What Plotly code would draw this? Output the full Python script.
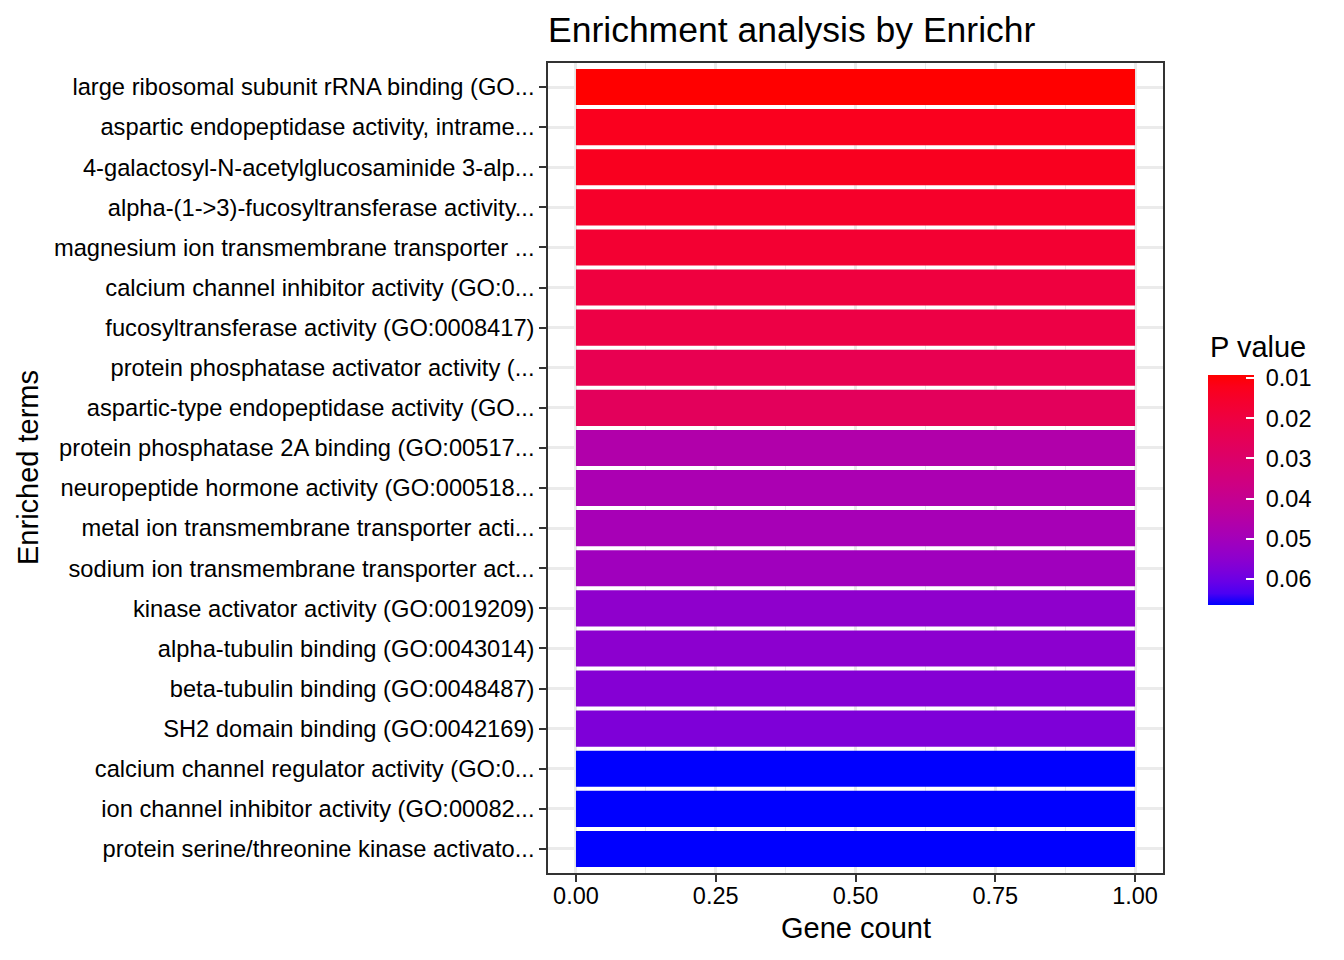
import plotly.graph_objects as go

# Enrichr results (one gene per term)
terms = [
    "large ribosomal subunit rRNA binding (GO...",
    "aspartic endopeptidase activity, intrame...",
    "4-galactosyl-N-acetylglucosaminide 3-alp...",
    "alpha-(1->3)-fucosyltransferase activity...",
    "magnesium ion transmembrane transporter ...",
    "calcium channel inhibitor activity (GO:0...",
    "fucosyltransferase activity (GO:0008417)",
    "protein phosphatase activator activity (...",
    "aspartic-type endopeptidase activity (GO...",
    "protein phosphatase 2A binding (GO:00517...",
    "neuropeptide hormone activity (GO:000518...",
    "metal ion transmembrane transporter acti...",
    "sodium ion transmembrane transporter act...",
    "kinase activator activity (GO:0019209)",
    "alpha-tubulin binding (GO:0043014)",
    "beta-tubulin binding (GO:0048487)",
    "SH2 domain binding (GO:0042169)",
    "calcium channel regulator activity (GO:0...",
    "ion channel inhibitor activity (GO:00082...",
    "protein serine/threonine kinase activato...",
]
gene_count = [1] * 20
p_value = [0.0092, 0.0127, 0.0130, 0.0150, 0.0168, 0.0196, 0.0208, 0.0237, 0.0265,
           0.0462, 0.0480, 0.0490, 0.0508, 0.0546, 0.0552, 0.0564, 0.0575,
           0.0665, 0.0665, 0.0665]
legend_ticks = [0.01, 0.02, 0.03, 0.04, 0.05, 0.06]


# ggplot-like gradient: red -> blue interpolated in Lab space
def to_lab(rgb):
    lin = [((c / 255 + 0.055) / 1.055) ** 2.4 if c / 255 > 0.04045 else c / 255 / 12.92 for c in rgb]
    r, g, b = lin
    x = (0.4124 * r + 0.3576 * g + 0.1805 * b) / 0.95047
    y = 0.2126 * r + 0.7152 * g + 0.0722 * b
    z = (0.0193 * r + 0.1192 * g + 0.9505 * b) / 1.08883
    f = lambda v: v ** (1 / 3) if v > 0.008856 else 7.787 * v + 16 / 116
    fx, fy, fz = f(x), f(y), f(z)
    return (116 * fy - 16, 500 * (fx - fy), 200 * (fy - fz))


def from_lab(lab):
    L, a, b = lab
    fy = (L + 16) / 116
    fx, fz = fy + a / 500, fy - b / 200
    inv = lambda t: t ** 3 if t ** 3 > 0.008856 else (t - 16 / 116) / 7.787
    x, y, z = 0.95047 * inv(fx), inv(fy), 1.08883 * inv(fz)
    lin = [3.2406 * x - 1.5372 * y - 0.4986 * z,
           -0.9689 * x + 1.8758 * y + 0.0415 * z,
           0.0557 * x - 0.2040 * y + 1.0570 * z]
    out = []
    for c in lin:
        c = min(max(c, 0), 1)
        c = 1.055 * c ** (1 / 2.4) - 0.055 if c > 0.0031308 else 12.92 * c
        out.append(round(min(max(c, 0), 1) * 255))
    return "rgb(%d,%d,%d)" % tuple(out)


red, blue = to_lab((255, 0, 0)), to_lab((0, 0, 255))
colorscale = []
for i in range(21):
    s = i / 20  # 0 -> blue (largest p), 1 -> red (smallest p)
    colorscale.append([s, from_lab([blue[k] + (red[k] - blue[k]) * s for k in range(3)])])

pmin, pmax = min(p_value), max(p_value)

# page has an 8px body margin, so the figure is 16px smaller than the window
W, H = 1328, 944
L_M, T_M, R_M, B_M = 540, 55, 173, 79
PW, PH = W - L_M - R_M, H - T_M - B_M

fig = go.Figure()
fig.add_trace(go.Bar(
    x=gene_count, y=terms, orientation="h",
    marker=dict(
        color=[-p for p in p_value], colorscale=colorscale,
        cmin=-pmax, cmax=-pmin, line=dict(width=0),
        colorbar=dict(
            tickvals=[-t for t in legend_ticks],
            ticktext=["\u00a0%.2f" % t for t in legend_ticks],
            tickfont=dict(size=23.5, color="black"),
            ticks="inside", ticklen=8, tickcolor="white", tickwidth=1.5,
            thickness=46, thicknessmode="pixels", len=230, lenmode="pixels",
            x=660 / PW, xanchor="left", y=(PH + T_M - 482) / PH, yanchor="middle",
            xpad=0, ypad=0, outlinewidth=0,
        ),
    ),
    showlegend=False,
))

fig.update_layout(
    width=W, height=H,
    margin=dict(l=L_M, r=R_M, t=T_M, b=B_M),
    paper_bgcolor="white", plot_bgcolor="white",
    font=dict(family="Liberation Sans, Arial, sans-serif", color="black"),
    bargap=0.1,
    title=dict(text="Enrichment analysis by Enrichr", x=L_M / W, xanchor="left",
               y=1 - 22 / H, yanchor="middle", font=dict(size=35.5, color="black")),
)
fig.update_xaxes(
    range=[-0.05, 1.05], tickvals=[0, 0.25, 0.5, 0.75, 1],
    ticktext=["0.00", "0.25", "0.50", "0.75", "1.00"],
    tickfont=dict(size=23.5, color="black"), ticklabelstandoff=-6,
    ticks="outside", ticklen=7, tickwidth=2, tickcolor="#333333",
    showgrid=True, gridcolor="#EBEBEB", gridwidth=2.5,
    minor=dict(tickvals=[0.125, 0.375, 0.625, 0.875], showgrid=True,
               gridcolor="#EBEBEB", gridwidth=1.3, ticks=""),
    showline=True, linecolor="#333333", linewidth=1.5, mirror=True,
    zeroline=False,
)
fig.update_yaxes(
    categoryorder="array", categoryarray=terms[::-1], range=[-0.6, 19.6],
    tickfont=dict(size=23.7, color="black"),
    ticks="outside", ticklen=7, tickwidth=2, tickcolor="#333333",
    showgrid=True, gridcolor="#EBEBEB", gridwidth=2.5,
    showline=True, linecolor="#333333", linewidth=1.5, mirror=True,
    zeroline=False,
)
fig.add_annotation(text="Gene count", xref="paper", yref="paper", x=0.5, y=-55 / PH,
                   yanchor="middle", showarrow=False, font=dict(size=29, color="black"))
fig.add_annotation(text="Enriched terms", xref="paper", yref="paper", x=-520 / PW, y=0.5,
                   xanchor="center", textangle=-90, showarrow=False, font=dict(size=29, color="black"))
fig.add_annotation(text="P value", xref="paper", yref="paper", x=660 / PW, y=(PH + T_M - 339) / PH,
                   xanchor="left", yanchor="middle", showarrow=False, font=dict(size=29, color="black"))

fig.write_html("out.html")
